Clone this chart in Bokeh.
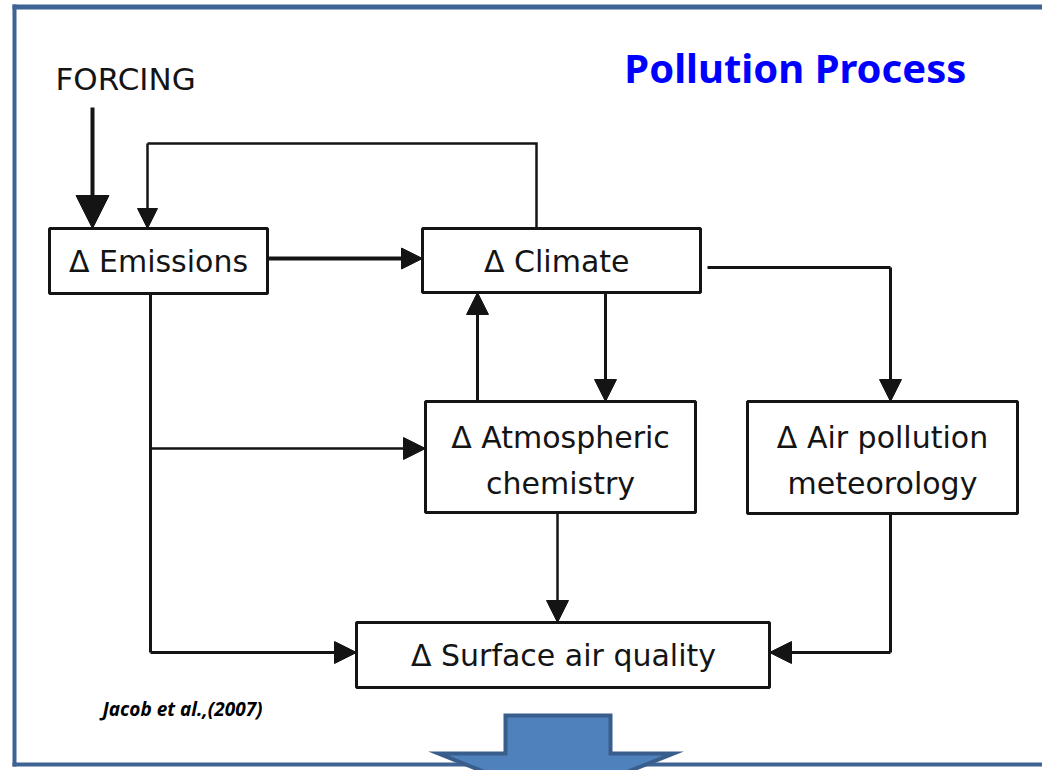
from bokeh.plotting import figure
from bokeh.models import Range1d, Arrow, NormalHead
from bokeh.core.properties import value
from bokeh.embed import file_html
from bokeh.resources import INLINE

# ---- diagram content (page pixel coordinates, y downward) ----
box_names = ["Emissions", "Climate", "Atmospheric chemistry", "Air pollution meteorology", "Surface air quality"]
box_left = [49, 422, 425, 747, 356]
box_right = [267, 700, 695, 1017, 769]
box_top = [228, 228, 401, 401, 622]
box_bottom = [293, 292, 512, 513, 687]

label_text = ["\u0394 Emissions", "\u0394  Climate", "\u0394 Atmospheric", "chemistry",
              "\u0394 Air pollution", "meteorology", "\u0394 Surface air quality"]
label_x = [158, 561, 560, 560, 882, 882, 563]
label_y = [261, 261, 437, 483, 437, 483, 655]

# edges: polyline waypoints, the last point is the arrow tip
edge_xs = [[92, 92], [536, 536, 147, 147], [267, 422], [707, 890, 890], [477, 477],
           [605, 605], [150, 150, 356], [150, 425], [557, 557], [890, 890, 769]]
edge_ys = [[107, 228], [228, 143, 143, 228], [258, 258], [267, 267, 401], [401, 292],
           [292, 401], [293, 652, 652], [448, 448], [512, 622], [513, 652, 652]]
edge_width = [4, 2.5, 4, 3, 3, 3, 3, 2.5, 2.5, 3]
edge_head = [33, 20, 21, 22, 22, 22, 22, 22, 22, 22]

frame_color = "#3F6493"
ink = "#141414"
body_font = value("DejaVu Sans")

p = figure(width=1042, height=770, output_backend="svg", toolbar_location=None,
           x_range=Range1d(0, 1042), y_range=Range1d(770, 0), min_border=0)
p.axis.visible = False
p.grid.visible = False
p.outline_line_color = None
p.background_fill_color = "white"
p.border_fill_color = "white"

# frame
p.quad(left=[12, 12, 12], right=[16, 1050, 1050], top=[4, 4, 762], bottom=[766, 9, 766],
       fill_color=frame_color, line_color=None)

# edges
for xs, ys, w, hs in zip(edge_xs, edge_ys, edge_width, edge_head):
    if len(xs) > 2:
        p.line(xs[:-1], ys[:-1], line_color=ink, line_width=w, line_join="miter")
    p.add_layout(Arrow(end=NormalHead(size=hs, fill_color=ink, line_color=ink, line_width=1),
                       x_start=xs[-2], y_start=ys[-2], x_end=xs[-1], y_end=ys[-1],
                       line_color=ink, line_width=w))

# boxes
p.quad(left=box_left, right=box_right, top=box_top, bottom=box_bottom,
       fill_color="white", line_color=ink, line_width=3)

p.text(x=label_x, y=label_y, text=label_text, text_align="center", text_baseline="middle",
       text_font=body_font, text_font_size="30px", text_color=ink)

p.text(x=[55], y=[78], text=["FORCING"], text_align="left", text_baseline="middle",
       text_font=body_font, text_font_size="31px", text_color=ink)

p.text(x=[800], y=[67], text=["Pollution  Process"], text_align="center", text_baseline="middle",
       text_font=value("Noto Sans"), text_font_size="40px", text_font_style="bold", text_color="#0000FF")

p.text(x=[102], y=[708], text=["Jacob et al.,(2007)"], text_align="left", text_baseline="middle",
       text_font=value("Noto Sans"), text_font_size="19px", text_font_style="bold italic", text_color="black")

# big blue down arrow
arrow_x = [505, 610, 610, 673, 555, 438, 505]
arrow_y = [715, 715, 753, 753, 800, 753, 753]
p.patch(arrow_x, arrow_y, fill_color="#4F81BD", line_color="#3A5E8C", line_width=4, line_join="miter")

open("out.html", "w").write(file_html(p, INLINE))
